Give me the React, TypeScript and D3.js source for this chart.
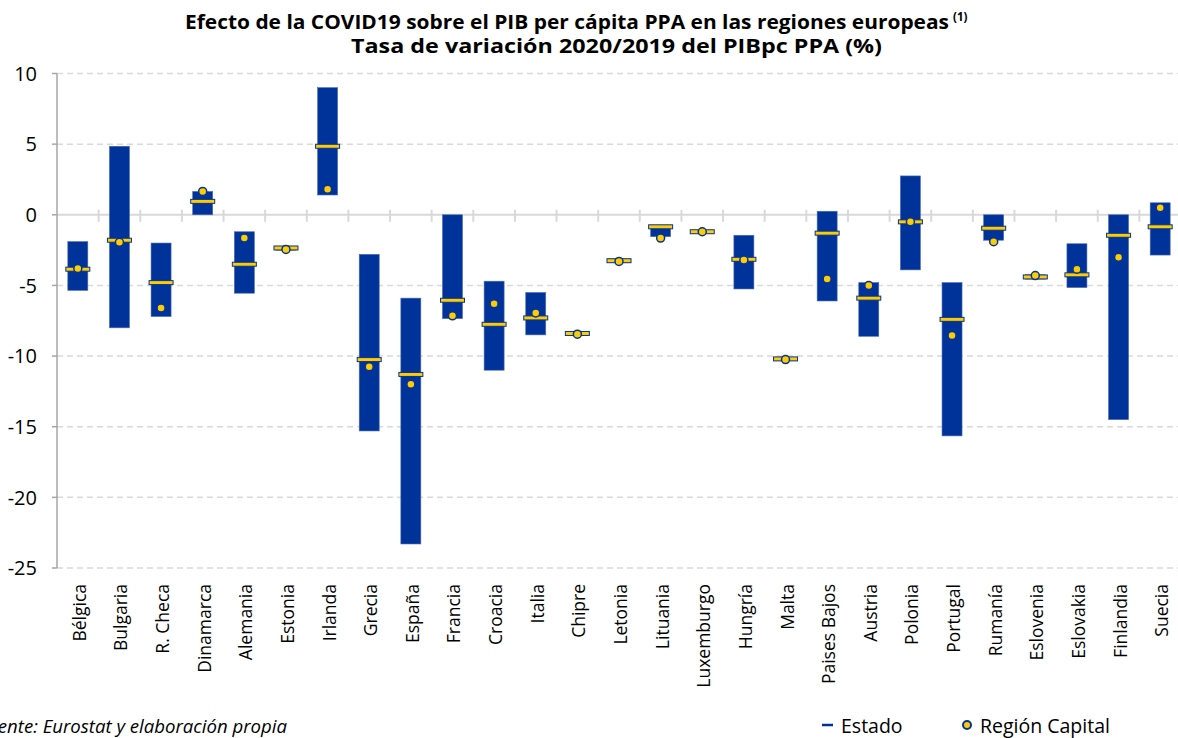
import React from "react";
import * as d3 from "d3";

const countries = [
  "Bélgica", "Bulgaria", "R. Checa", "Dinamarca", "Alemania", "Estonia", "Irlanda",
  "Grecia", "España", "Francia", "Croacia", "Italia", "Chipre", "Letonia", "Lituania",
  "Luxemburgo", "Hungría", "Malta", "Paises Bajos", "Austria", "Polonia", "Portugal",
  "Rumanía", "Eslovenia", "Eslovakia", "Finlandia", "Suecia",
];
// rango regional (máximo y mínimo)
const regionMax = [
  -1.9, 4.85, -2.0, 1.65, -1.2, -2.3, 9.0, -2.8, -5.9, 0, -4.7, -5.5, -8.35, -3.2, -0.8,
  -1.1, -1.45, -10.1, 0.25, -4.8, 2.75, -4.8, 0, -4.25, -2.05, 0, 0.85,
];
const regionMin = [
  -5.35, -8.0, -7.2, 0, -5.55, -2.5, 1.4, -15.3, -23.3, -7.35, -11.0, -8.5, -8.5, -3.35, -1.55,
  -1.3, -5.25, -10.3, -6.1, -8.6, -3.9, -15.65, -1.8, -4.55, -5.15, -14.5, -2.85,
];
const estado = [
  -3.85, -1.8, -4.8, 0.95, -3.5, -2.35, 4.85, -10.25, -11.3, -6.05, -7.75, -7.3, -8.4, -3.25, -0.85,
  -1.2, -3.15, -10.2, -1.3, -5.9, -0.5, -7.4, -0.95, -4.4, -4.25, -1.45, -0.85,
];
const capital = [
  -3.8, -1.95, -6.6, 1.65, -1.65, -2.45, 1.8, -10.75, -12.0, -7.15, -6.3, -6.95, -8.45, -3.3, -1.65,
  -1.2, -3.2, -10.25, -4.55, -5.0, -0.5, -8.55, -1.9, -4.3, -3.85, -3.0, 0.5,
];
const yTicks = [10, 5, 0, -5, -10, -15, -20, -25];

const W = 1178;
const H = 738;
const BLUE = "#003399";
const YELLOW = "#FFCC00";
const FONT = '"Open Sans", "Noto Sans", sans-serif';

const App: React.FC = () => {
  const x = d3.scaleBand<string>().domain(countries).range([57, 1181]).paddingInner(0).paddingOuter(0);
  const y = d3.scaleLinear().domain([-25, 10]).range([568, 73.5]);
  const bw = 20;
  const bandW = x.bandwidth();
  const cx = (c: string) => (x(c) ?? 0) + bandW / 2;

  return (
    <svg width={W} height={H} style={{ position: "absolute", left: 0, top: 0, background: "#fff" }}>
      {/* título */}
      <text x={185} y={29} fontFamily={FONT} fontWeight={700} fontSize={19} fill="#000"
        textLength={764} lengthAdjust="spacingAndGlyphs">
        Efecto de la COVID19 sobre el PIB per cápita PPA en las regiones europeas
      </text>
      <text x={953} y={21} fontFamily={FONT} fontWeight={700} fontSize={11.5} fill="#000">(1)</text>
      <text x={351} y={53} fontFamily={FONT} fontWeight={700} fontSize={19} fill="#000"
        textLength={531} lengthAdjust="spacingAndGlyphs">
        Tasa de variación 2020/2019 del PIBpc PPA (%)
      </text>

      {/* rejilla */}
      {yTicks.filter((t) => t !== 0).map((t) => (
        <line key={t} x1={57} x2={1181} y1={y(t)} y2={y(t)} stroke="#d9d9d9" strokeWidth={1.5} strokeDasharray="6,4" />
      ))}
      <line x1={57} x2={1181} y1={y(0)} y2={y(0)} stroke="#d9d9d9" strokeWidth={2} />
      {countries.map((c, i) => (
        i > 0 ? <line key={c} x1={x(c)} x2={x(c)} y1={y(0) - 5} y2={y(0) + 7} stroke="#d9d9d9" strokeWidth={2} /> : null
      ))}
      <line x1={57} x2={57} y1={y(10)} y2={y(-25)} stroke="#a6a6a6" strokeWidth={1.5} />
      {yTicks.map((t) => (
        <g key={t}>
          <line x1={52} x2={57} y1={y(t)} y2={y(t)} stroke="#a6a6a6" strokeWidth={1.5} />
          <text x={37} y={y(t)} dy="0.36em" textAnchor="end" fontFamily={FONT} fontSize={20} fill="#000">{t}</text>
        </g>
      ))}

      {/* barras: rango regional */}
      {countries.map((c, i) => {
        const top = y(Math.max(regionMax[i], regionMin[i]));
        const bot = y(Math.min(regionMax[i], regionMin[i]));
        return (
          <rect key={c} x={cx(c) - bw / 2} y={top} width={bw} height={Math.max(bot - top, 1)}
            fill={BLUE} stroke="#4a6bb5" strokeWidth={0.6} />
        );
      })}

      {/* Estado */}
      {countries.map((c, i) => (
        <rect key={c} x={cx(c) - 12} y={y(estado[i]) - 2} width={24} height={4}
          fill={YELLOW} stroke={BLUE} strokeWidth={1} />
      ))}

      {/* Región capital */}
      {countries.map((c, i) => (
        <circle key={c} cx={cx(c)} cy={y(capital[i])} r={4} fill={YELLOW} stroke={BLUE} strokeWidth={1.5} />
      ))}

      {/* etiquetas de categoría */}
      {countries.map((c) => (
        <text key={c} transform={`translate(${cx(c) + 8},584) rotate(-90)`} textAnchor="end"
          fontFamily={FONT} fontSize={17.5} fill="#000">{c}</text>
      ))}

      {/* fuente */}
      <text x={287} y={733} textAnchor="end" fontFamily={FONT} fontStyle="italic" fontSize={18.6} fill="#000">
        Fuente: Eurostat y elaboración propia
      </text>

      {/* leyenda */}
      <line x1={822} x2={833} y1={725} y2={725} stroke={BLUE} strokeWidth={2.5} />
      <text x={841} y={733} fontFamily={FONT} fontSize={19.5} fill="#000">Estado</text>
      <circle cx={967} cy={725} r={4} fill={YELLOW} stroke={BLUE} strokeWidth={2} />
      <text x={980} y={733} fontFamily={FONT} fontSize={19.5} fill="#000">Región Capital</text>
    </svg>
  );
};

export default App;
